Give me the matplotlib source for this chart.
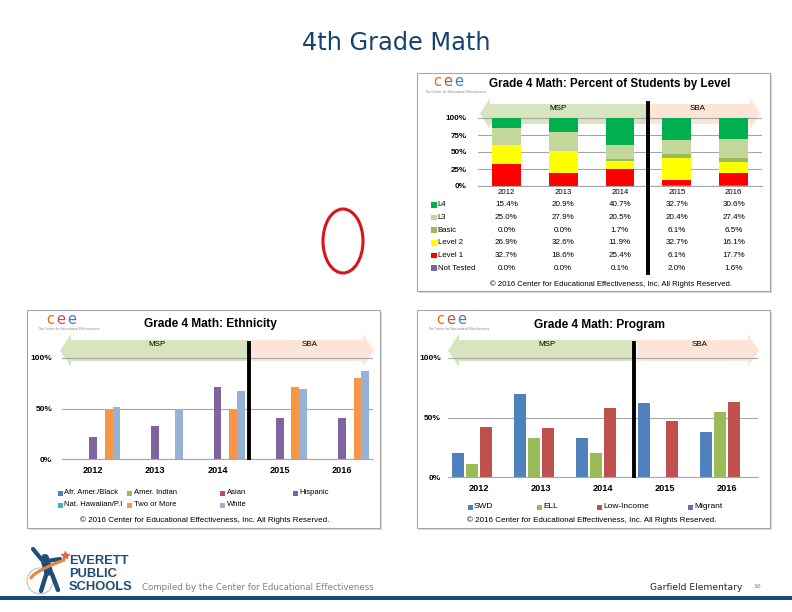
import numpy as np
import matplotlib
matplotlib.use('Agg')
import matplotlib.pyplot as plt
from matplotlib.patches import Rectangle, Polygon, Ellipse, Circle

# ---- data ----
years = ['2012', '2013', '2014', '2015', '2016']

level_names = ['L4', 'L3', 'Basic', 'Level 2', 'Level 1', 'Not Tested']
l4 = [15.4, 20.9, 40.7, 32.7, 30.6]
l3 = [25.0, 27.9, 20.5, 20.4, 27.4]
basic = [0.0, 0.0, 1.7, 6.1, 6.5]
level2 = [26.9, 32.6, 11.9, 32.7, 16.1]
level1 = [32.7, 18.6, 25.4, 6.1, 17.7]
not_tested = [0.0, 0.0, 0.1, 2.0, 1.6]
level_colors = ['#00B050', '#C4D79B', '#9BBB59', '#FFFF00', '#FF0000', '#8064A2']

eth_names = ['Afr. Amer./Black', 'Amer. Indian', 'Asian', 'Hispanic',
             'Nat. Hawaiian/P.I', 'Two or More', 'White']
afr_amer = [0, 0, 0, 0, 0]
amer_indian = [0, 0, 0, 0, 0]
asian = [0, 0, 0, 0, 0]
hispanic = [22, 33, 71, 41, 41]
nat_hawaiian = [0, 0, 0, 0, 0]
two_or_more = [50, 0, 50, 71, 80]
white = [51, 50, 67, 69, 87]
eth_colors = ['#4F81BD', '#9BBB59', '#C0504D', '#8064A2', '#4BACC6', '#F79646', '#95B3D7']

prog_names = ['SWD', 'ELL', 'Low-Income', 'Migrant']
swd = [20, 70, 33, 62, 38]
ell = [11, 33, 20, 0, 55]
low_income = [42, 41, 58, 47, 63]
migrant = [0, 0, 0, 0, 0]
prog_colors = ['#4F81BD', '#9BBB59', '#C0504D', '#8064A2']

W, H = 792, 612
NARROW = ['Liberation Sans Narrow', 'Liberation Sans', 'DejaVu Sans']

fig = plt.figure(figsize=(W / 100, H / 100), dpi=100)
fig.patch.set_facecolor('white')


def rect(x0, y0, x1, y1):
    return [x0 / W, 1 - y1 / H, (x1 - x0) / W, (y1 - y0) / H]


# background / slide layer, pixel coordinates
bg = fig.add_axes([0, 0, 1, 1], zorder=0)
bg.set_xlim(0, W)
bg.set_ylim(H, 0)
bg.axis('off')

bg.text(396, 43, '4th Grade Math', ha='center', va='center', fontsize=17.3,
        color='#17426E', family='DejaVu Sans')

# panels
for (x0, y0, x1, y1) in [(417, 73, 770, 291), (27, 310, 380, 528), (417, 310, 770, 528)]:
    bg.add_patch(Rectangle((x0 + 1.5, y0 + 1.5), x1 - x0, y1 - y0, fc='#D9D9D9', ec='none'))
    bg.add_patch(Rectangle((x0, y0), x1 - x0, y1 - y0, fc='white', ec='#A6A6A6', lw=0.8))


def cee_logo(x, y):
    for k, (ch, c) in enumerate(zip('cee', ['#E46C0A', '#C0504D', '#3A7DC0'])):
        bg.text(x + k * 11, y, ch, ha='center', va='center', fontsize=10.5, color=c,
                family='DejaVu Sans')
    bg.text(x - 12, y + 10, 'The Center for Educational Effectiveness', ha='left', va='center',
            fontsize=2.2, color='#808080')


cee_logo(437, 82)
cee_logo(50, 319)
cee_logo(440, 319)

bg.text(610, 84, 'Grade 4 Math: Percent of Students by Level', ha='center', va='center',
        fontsize=8.4, fontweight='bold', family=NARROW)
bg.text(210, 324, 'Grade 4 Math: Ethnicity', ha='center', va='center',
        fontsize=8.6, fontweight='bold', family=NARROW)
bg.text(600, 325, 'Grade 4 Math: Program', ha='center', va='center',
        fontsize=8.6, fontweight='bold', family=NARROW)


def band_arrow(tail, tip, yb0, yb1, yh0, yh1, head, color, label, lx):
    s = 1 if tip > tail else -1
    base = tip - s * head
    pts = [(tail, yb0), (base, yb0), (base, yh0), (tip, (yh0 + yh1) / 2),
           (base, yh1), (base, yb1), (tail, yb1)]
    bg.add_patch(Polygon(pts, closed=True, fc=color, ec='none'))
    bg.text(lx, yb0 + 4, label, ha='center', va='center', fontsize=5.8, family=NARROW)


band_arrow(647, 480, 104, 124, 98, 129, 10, '#D7E4BD', 'MSP', 558)
band_arrow(649, 760, 104, 124, 98, 129, 10, '#FCE4D6', 'SBA', 698)
band_arrow(249, 60, 340, 361, 334, 367, 11, '#D7E4BD', 'MSP', 157)
band_arrow(251, 374, 340, 361, 334, 367, 11, '#FCE4D6', 'SBA', 310)
band_arrow(635, 448, 340, 361, 334, 367, 11, '#D7E4BD', 'MSP', 547)
band_arrow(637, 759, 340, 361, 334, 367, 11, '#FCE4D6', 'SBA', 700)


def chart_axes(x0, ytop, x1, y0px, y100px):
    ax = fig.add_axes(rect(x0, ytop, x1, y0px), zorder=1)
    ax.patch.set_alpha(0)
    ax.set_xlim(-0.5, 4.5)
    ax.set_ylim(0, (y0px - ytop) / (y0px - y100px) * 100)
    for sp in ['top', 'right', 'left']:
        ax.spines[sp].set_visible(False)
    ax.spines['bottom'].set_color('#A6A6A6')
    ax.spines['bottom'].set_linewidth(0.8)
    ax.yaxis.grid(True, color='#A6A6A6', lw=0.8)
    ax.set_axisbelow(True)
    return ax


x = np.arange(len(years))

# ---- top chart: percent of students by level ----
ax1 = chart_axes(478, 97, 762, 186, 118)
stack = [not_tested, level1, level2, basic, l3, l4]
stack_colors = level_colors[::-1]
bottom = np.zeros(len(years))
for vals, c in zip(stack, stack_colors):
    ax1.bar(x, vals, 0.51, bottom=bottom, color=c, zorder=2)
    bottom += np.array(vals)
ax1.set_yticks([0, 25, 50, 75, 100])
ax1.set_yticklabels(['0%', '25%', '50%', '75%', '100%'])
ax1.tick_params(axis='y', length=0, pad=8, labelsize=5.8)
ax1.set_xticks([])
for lab in ax1.get_yticklabels():
    lab.set_family(NARROW)
    lab.set_fontweight('bold')
ax1.plot([2.5, 2.5], [-128, 122], color='black', lw=2.8, clip_on=False, zorder=5)

# data table under the top chart
col_px = 478 + (x + 0.5) * 56.8
for cx, yr in zip(col_px, years):
    bg.text(cx, 192, yr, ha='center', va='center', fontsize=5.6, family=NARROW)
table_rows = [l4, l3, basic, level2, level1, not_tested]
for r, (name, vals, c) in enumerate(zip(level_names, table_rows, level_colors)):
    ry = 205 + r * 12.6
    bg.add_patch(Rectangle((431, ry - 2.8), 5.5, 5.5, fc=c, ec='none'))
    bg.text(437.5, ry, name, ha='left', va='center', fontsize=5.6, family=NARROW)
    for cx, v in zip(col_px, vals):
        bg.text(cx, ry, f'{v:.1f}%', ha='center', va='center', fontsize=5.8, family=NARROW)
bg.text(611, 284, '\u00a9 2016 Center for Educational Effectiveness, Inc. All Rights Reserved.',
        ha='center', va='center', fontsize=5.6, family=NARROW)

# ---- ethnicity chart ----
ax2 = chart_axes(62, 335, 373, 459, 358)
eth_series = [afr_amer, amer_indian, asian, hispanic, nat_hawaiian, two_or_more, white]
bw = 0.125
for k, (vals, c) in enumerate(zip(eth_series, eth_colors)):
    ax2.bar(x + (k - 3) * bw, vals, bw, color=c, zorder=2)
ax2.set_yticks([0, 50, 100])
ax2.set_yticklabels(['0%', '50%', '100%'])
ax2.set_xticks(x)
ax2.set_xticklabels(years)
ax2.tick_params(axis='y', length=0, pad=7, labelsize=6)
ax2.tick_params(axis='x', length=0, pad=5, labelsize=6.6)
for lab in ax2.get_yticklabels() + ax2.get_xticklabels():
    lab.set_family(NARROW)
    lab.set_fontweight('bold')
ax2.plot([2.5, 2.5], [1, 115], color='black', lw=2.8, clip_on=False, zorder=5)

leg_x = [60, 129, 222, 295]
for k, (name, c) in enumerate(zip(eth_names, eth_colors)):
    lx = leg_x[k % 4]
    ly = 493 if k < 4 else 505
    bg.add_patch(Rectangle((lx - 2.5, ly - 2.5), 5, 5, fc=c, ec='none'))
    bg.text(lx + 4.5, ly, name, ha='left', va='center', fontsize=5.5, family=NARROW)
bg.text(205, 520, '\u00a9 2016 Center for Educational Effectiveness, Inc. All Rights Reserved.',
        ha='center', va='center', fontsize=5.8, family=NARROW)

# ---- program chart ----
ax3 = chart_axes(448, 335, 758, 477, 358)
prog_series = [swd, ell, low_income, migrant]
for k, (vals, c) in enumerate(zip(prog_series, prog_colors)):
    ax3.bar(x + (k - 1.5) * 0.226, vals, 0.18, color=c, zorder=2)
ax3.set_yticks([0, 50, 100])
ax3.set_yticklabels(['0%', '50%', '100%'])
ax3.set_xticks(x)
ax3.set_xticklabels(years)
ax3.tick_params(axis='y', length=0, pad=5, labelsize=6)
ax3.tick_params(axis='x', length=0, pad=5, labelsize=6.6)
for lab in ax3.get_yticklabels() + ax3.get_xticklabels():
    lab.set_family(NARROW)
    lab.set_fontweight('bold')
ax3.plot([2.5, 2.5], [1, 113], color='black', lw=2.8, clip_on=False, zorder=5)

for lx, name, c in zip([470, 539, 599, 690], prog_names, prog_colors):
    bg.add_patch(Rectangle((lx - 2.5, 504.5), 5, 5, fc=c, ec='none'))
    bg.text(lx + 4, 507, name, ha='left', va='center', fontsize=6, family=NARROW)
bg.text(592, 520, '\u00a9 2016 Center for Educational Effectiveness, Inc. All Rights Reserved.',
        ha='center', va='center', fontsize=5.8, family=NARROW)

# red ellipse
bg.add_patch(Ellipse((343, 241), 40, 64, fc='none', ec='#D9141C', lw=2.2))

# ---- footer ----
bg.add_patch(Rectangle((0, 596), W, 4, fc='#1B4A78', ec='none'))
bg.text(142, 587, 'Compiled by the Center for Educational Effectiveness', ha='left', va='center',
        fontsize=6.2, color='#7F7F7F', family='DejaVu Sans')
bg.text(742, 587, 'Garfield Elementary', ha='right', va='center', fontsize=6.6,
        color='#262626', family='DejaVu Sans')
bg.text(757, 587, '16', ha='center', va='center', fontsize=4.5, color='#7F7F7F')

# Everett logo (rough)
bg.add_patch(Circle((40, 581), 13, fc='none', ec='#BFBFBF', lw=0.8))
bg.add_patch(Circle((45, 558), 4, fc='#1F4E79', ec='none'))
bg.plot([42, 33], [560, 549], color='#1F4E79', lw=3, solid_capstyle='round')
bg.plot([47, 60], [561, 559], color='#1F4E79', lw=3, solid_capstyle='round')
bg.add_patch(Polygon([(41, 562), (50, 561), (54, 575), (45, 576)], fc='#1F4E79', ec='none'))
bg.plot([46, 41], [575, 591], color='#1F4E79', lw=3.2, solid_capstyle='round')
bg.plot([52, 58], [574, 590], color='#1F4E79', lw=3.2, solid_capstyle='round')
t = np.linspace(0, 1, 30)
bg.plot(31 + 33 * t, 578 - 18 * t ** 0.7, color='#E8853A', lw=2.2, solid_capstyle='round')
bg.plot([65], [555], marker='*', color='#E8653A', ms=6)
for k, word in enumerate(['EVERETT', 'PUBLIC', 'SCHOOLS']):
    bg.text(69, 561 + k * 13, word, ha='left', va='center', fontsize=9.3,
            fontweight='bold', color='#1F4E79', family=NARROW)

fig.savefig('out.png', dpi=100, facecolor='white')
